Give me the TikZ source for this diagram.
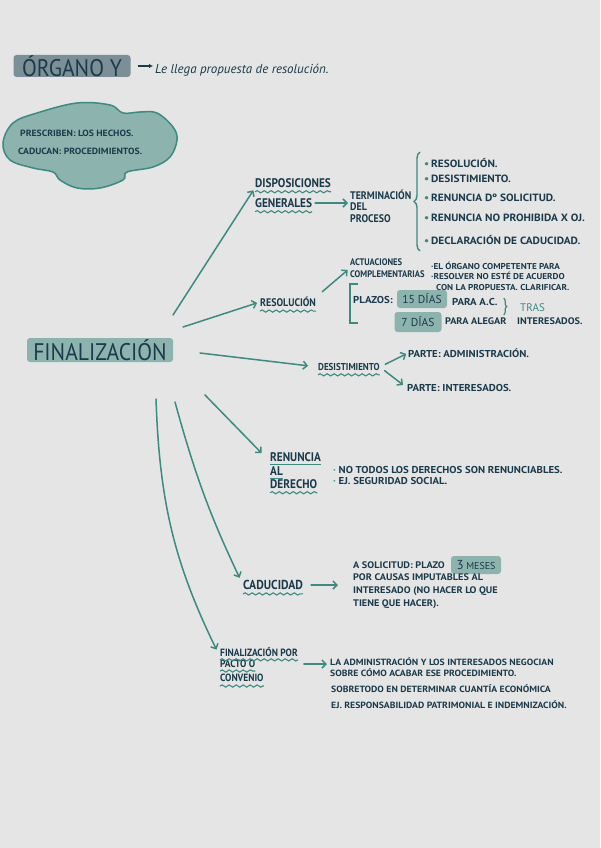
\documentclass[tikz,border=0pt]{standalone}
\usepackage{fontspec}
\setmainfont{PT Sans}
\newfontfamily\handfont[FakeStretch=0.9]{PT Sans}
\newfontfamily\smallfont[FakeStretch=1.08]{PT Sans}
\usetikzlibrary{arrows.meta,decorations.pathmorphing,decorations.pathreplacing}
\definecolor{paper}{HTML}{E5E5E5}
\definecolor{ink}{HTML}{1B3A4B}
\definecolor{tealink}{HTML}{3D8A80}
\definecolor{sage}{HTML}{8DB3AE}
\definecolor{slate}{HTML}{7D8F96}

\begin{document}
\begin{tikzpicture}[x=1pt, y=-1pt,
      hlbox/.style={fill=sage, rounded corners=3pt, inner sep=0pt, text=ink},
      headtxt/.style={font=\handfont\bfseries\fontsize{12.5}{12.5}\selectfont, text=ink, anchor=west, inner sep=0pt, align=left},
      smalltxt/.style={font=\smallfont\bfseries\fontsize{10}{11}\selectfont, text=ink, anchor=west, inner sep=0pt, align=left},
      wavy/.style={draw=tealink, line width=1.1pt, decorate, decoration={snake, amplitude=1.1pt, segment length=7pt}},
      arr/.style={draw=tealink, line width=1.5pt, line cap=round, -{Straight Barb[length=4pt,width=8pt]}}]

      \fill[paper] (0,0) rectangle (600,848);
      \useasboundingbox (0,0) rectangle (600,848);

      % Title
      \node[fill=slate, rounded corners=3pt, minimum width=117pt, minimum height=22pt, inner sep=0pt, text=ink, font=\handfont\fontsize{24}{24}\selectfont] (organo) at (72,66) {ÓRGANO Y};
      \node[anchor=west, inner sep=0pt, text=ink, font=\itshape\fontsize{13}{13}\selectfont] (llega) at (155,70) {Le llega propuesta de resolución.};
      \draw[ink, line width=1.3pt, -{Latex[length=4pt,width=4.5pt]}, shorten <=7pt, shorten >=2pt] (organo.east) -- (organo.east -| llega.west);

      % Cloud
      \draw[tealink, fill=sage, line width=1.5pt] plot[smooth cycle, tension=0.6] coordinates {(3,143) (13,123) (37,113) (77,103) (110,105) (123,113) (140,112) (157,113) (173,127) (177,140) (170,157) (153,167) (127,172) (123,180) (100,188) (77,188) (60,180) (53,172) (33,168) (10,160)};
      \node[smalltxt, font=\smallfont\bfseries\fontsize{9}{9}\selectfont] (presc) at (20,133) {PRESCRIBEN: LOS HECHOS.};
      \node[smalltxt, font=\smallfont\bfseries\fontsize{9}{9}\selectfont] (caduc) at (18,151) {CADUCAN: PROCEDIMIENTOS.};

      % Central node
      \node[hlbox, minimum width=146pt, minimum height=24pt, font=\handfont\fontsize{24}{24}\selectfont] (fin) at (100,350) {FINALIZACIÓN};
      \coordinate (fin-o1) at (173,315);
      \coordinate (fin-o2) at (183,327);
      \coordinate (fin-o3) at (200,353);
      \coordinate (fin-o4) at (205,395);
      \coordinate (fin-o5) at (175,402);
      \coordinate (fin-o6) at (156,399);

      % --- Disposiciones generales ---
      \node[headtxt] (disp-a) at (255,183) {DISPOSICIONES};
      \node[headtxt] (disp-b) at (255,203) {GENERALES};
      \draw[wavy] ([yshift=-4pt]disp-a.south west) -- ([yshift=-4pt]disp-a.south east);
      \draw[wavy] ([yshift=-4pt]disp-b.south west) -- ([yshift=-4pt]disp-b.south east);
      \node[headtxt, font=\handfont\bfseries\fontsize{11}{11.5}\selectfont] (term) at (350,206) {TERMINACIÓN\\DEL\\PROCESO};
      \draw[arr, shorten <=3pt, shorten >=2pt] (disp-b.east) -- (disp-b.east -| term.west);
      \foreach \txt/\yy [count=\i] in {RESOLUCIÓN./163, DESISTIMIENTO./179, RENUNCIA Dº SOLICITUD./198, RENUNCIA NO PROHIBIDA X OJ./218, DECLARACIÓN DE CADUCIDAD./240}
        \node[smalltxt, font=\smallfont\bfseries\fontsize{10.5}{11}\selectfont] (item-\i) at (424,\yy) {\textcolor{tealink}{\textbullet}\,\txt};
      \draw[tealink, line width=1.4pt, decorate, decoration={brace, amplitude=6pt}] ([xshift=-4pt,yshift=-6pt]item-5.south west) -- ([xshift=-4pt,yshift=6pt]item-1.north west);

      % --- Resolucion ---
      \node[headtxt, font=\handfont\bfseries\fontsize{11}{11}\selectfont] (res) at (260,302) {RESOLUCIÓN};
      \draw[wavy] ([yshift=-4pt]res.south west) -- ([yshift=-4pt]res.south east);
      \node[headtxt, font=\handfont\bfseries\fontsize{9.5}{12}\selectfont] (act) at (350,268) {ACTUACIONES\\COMPLEMENTARIAS};
      \draw[arr, shorten <=8pt, shorten >=3pt] (res.north east) -- (act.west);
      \node[smalltxt, font=\smallfont\bfseries\fontsize{8.5}{10.5}\selectfont] (act-txt) at (431,276) {·EL ÓRGANO COMPETENTE PARA\\·RESOLVER NO ESTÉ DE ACUERDO\\\hspace*{5pt}CON LA PROPUESTA. CLARIFICAR.};
      \node[smalltxt] (plazos) at (353,300) {PLAZOS:};
      \node[hlbox, minimum width=50pt, minimum height=18pt, font=\fontsize{11.5}{11.5}\selectfont] (dias-15) at (422,299) {15 DÍAS};
      \node[smalltxt] (para-ac) at (452,302) {PARA A.C.};
      \node[hlbox, minimum width=47pt, minimum height=20pt, font=\fontsize{11.5}{11.5}\selectfont] (dias-7) at (418,322) {7 DÍAS};
      \node[smalltxt, font=\smallfont\bfseries\fontsize{9.5}{11}\selectfont] (alegar) at (445,321) {PARA ALEGAR};
      \node[smalltxt, font=\smallfont\bfseries\fontsize{9.5}{11}\selectfont] (interes) at (517,321) {INTERESADOS.};
      \draw[tealink, line width=1.2pt, decorate, decoration={brace, amplitude=3pt}] ([xshift=6pt]para-ac.north east) -- ([xshift=6pt,yshift=-9pt]para-ac.south east);
      \node[anchor=west, inner sep=0pt, text=tealink, font=\fontsize{11}{11}\selectfont] (tras) at (520,308) {TRAS};
      \draw[tealink, line width=1.4pt] (358,284) -- (350,284) -- (350,323) -- (358,323);

      % --- Desistimiento ---
      \node[headtxt, font=\handfont\bfseries\fontsize{10}{10}\selectfont] (desist) at (318,367) {DESISTIMIENTO};
      \draw[wavy] ([yshift=-4pt]desist.south west) -- ([yshift=-4pt]desist.south east);
      \node[smalltxt] (parte-adm) at (408,353) {PARTE: ADMINISTRACIÓN.};
      \node[smalltxt] (parte-int) at (407,388) {PARTE: INTERESADOS.};
      \draw[arr, shorten <=6pt, shorten >=2pt] (desist.east) -- (parte-adm.west);
      \draw[arr, shorten <=6pt, shorten >=5pt] (desist.east) -- (parte-int.west);

      % --- Renuncia al derecho ---
      \node[headtxt, font=\handfont\bfseries\fontsize{12.5}{12}\selectfont] (ren-a) at (270,457) {RENUNCIA};
      \node[headtxt, font=\handfont\bfseries\fontsize{12.5}{12}\selectfont] (ren-b) at (270,471) {AL};
      \node[headtxt, font=\handfont\bfseries\fontsize{12.5}{12}\selectfont] (ren-c) at (270,484) {DERECHO};
      \draw[tealink, line width=1.1pt] ([yshift=-2.5pt]ren-a.south west) -- ([yshift=-2.5pt]ren-a.south east);
      \draw[tealink, line width=1.1pt] ([yshift=-2.5pt]ren-b.south west) -- ([yshift=-2.5pt]ren-b.south east);
      \draw[wavy] ([yshift=-4pt]ren-c.south west) -- ([yshift=-4pt]ren-c.south east);
      \node[smalltxt] (ren-txt) at (333,475) {\textcolor{tealink}{·} NO TODOS LOS DERECHOS SON RENUNCIABLES.\\\textcolor{tealink}{·} EJ. SEGURIDAD SOCIAL.};

      % --- Caducidad ---
      \node[headtxt, font=\handfont\bfseries\fontsize{13}{13}\selectfont] (cad) at (243,585) {CADUCIDAD};
      \draw[wavy] ([yshift=-4pt]cad.south west) -- ([yshift=-4pt]cad.south east);
      \node[smalltxt, font=\smallfont\bfseries\fontsize{9.5}{11}\selectfont] (cad-a) at (353,565) {A SOLICITUD: PLAZO};
      \node[hlbox, minimum width=50pt, minimum height=18pt, font=\fontsize{10}{10}\selectfont] (meses) at (476,565) {{\fontsize{13}{13}\selectfont 3} MESES};
      \node[smalltxt, anchor=north west, font=\smallfont\bfseries\fontsize{9.5}{13}\selectfont] (cad-b) at (353,574) {POR CAUSAS IMPUTABLES AL\\INTERESADO (NO HACER LO QUE\\TIENE QUE HACER).};
      \draw[arr, shorten <=8pt, shorten >=15pt] (cad.east) -- (cad.east -| cad-a.west);

      % --- Finalizacion por pacto o convenio ---
      \node[headtxt, font=\handfont\bfseries\fontsize{10.5}{11}\selectfont] (pac-a) at (220,652) {FINALIZACIÓN POR};
      \node[headtxt, font=\handfont\bfseries\fontsize{10.5}{11}\selectfont] (pac-b) at (220,664) {PACTO O};
      \node[headtxt, font=\handfont\bfseries\fontsize{10.5}{11}\selectfont] (pac-c) at (220,678) {CONVENIO};
      \draw[wavy] ([yshift=-3pt]pac-a.south west) -- ([yshift=-3pt]pac-a.south east);
      \draw[wavy] ([yshift=-3pt]pac-b.south west) -- ([yshift=-3pt]pac-b.south east);
      \draw[wavy] ([yshift=-4pt]pac-c.south west) -- ([yshift=-4pt]pac-c.south east);
      \node[smalltxt, font=\smallfont\bfseries\fontsize{9}{10.5}\selectfont] (pac-t1) at (330,667) {LA ADMINISTRACIÓN Y LOS INTERESADOS NEGOCIAN\\SOBRE CÓMO ACABAR ESE PROCEDIMIENTO.};
      \node[smalltxt, font=\smallfont\bfseries\fontsize{9}{16}\selectfont] (pac-t2) at (331,697) {SOBRETODO EN DETERMINAR CUANTÍA ECONÓMICA\\EJ. RESPONSABILIDAD PATRIMONIAL E INDEMNIZACIÓN.};
      \draw[arr, shorten <=6pt, shorten >=3pt] (pac-a.east |- pac-b.east) -- (pac-b.east -| pac-t1.west);

      % Branches from the centre
      \draw[arr, shorten >=3pt] (fin-o1) -- (disp-a.south west);
      \draw[arr, shorten >=3pt] (fin-o2) -- (res.west);
      \draw[arr, shorten >=10pt] (fin-o3) -- (desist.west);
      \draw[arr, shorten >=12pt] (fin-o4) -- (ren-a.south west);
      \draw[arr, shorten >=8pt] (fin-o5) to[bend right=5] (cad.west);
      \draw[arr, shorten >=8pt] (fin-o6) to[bend right=12] (pac-a.south west);

\end{tikzpicture}
\end{document}
